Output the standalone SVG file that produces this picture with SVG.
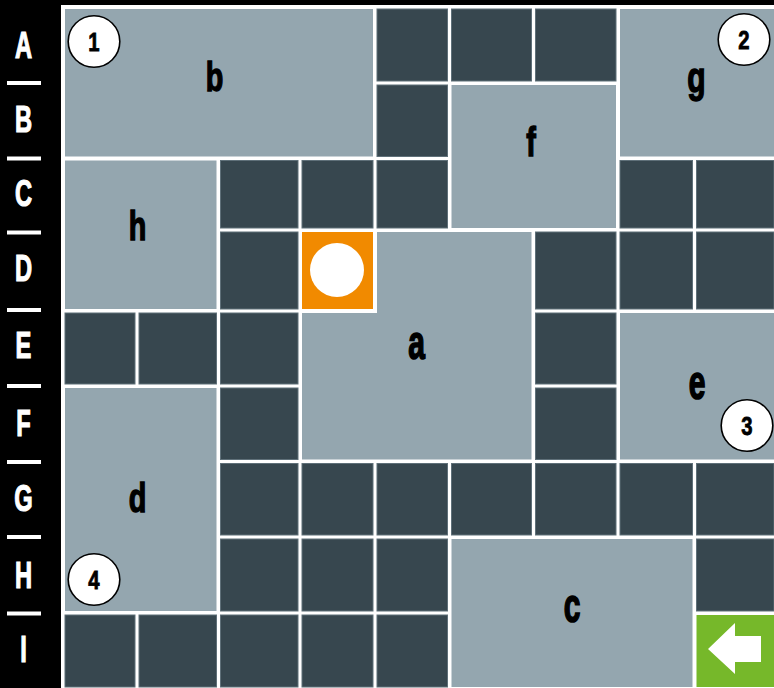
<svg xmlns="http://www.w3.org/2000/svg" width="774" height="688" viewBox="0 0 774 688">
<style>
.dk{fill:#37474F;stroke:#5f7079;stroke-width:1}
.lt{fill:#94A6AF}
.row{font-family:"Liberation Sans",Arial,sans-serif;font-weight:bold;font-size:37px;fill:#fff;stroke:#fff;stroke-width:1.2;text-anchor:middle}
.lbl{font-family:"Liberation Sans",Arial,sans-serif;font-weight:bold;font-size:40px;fill:#000;stroke:#000;stroke-width:1.4;text-anchor:middle}
.num{font-family:"Liberation Sans",Arial,sans-serif;font-weight:bold;font-size:26px;fill:#000;stroke:#000;stroke-width:0.8;text-anchor:middle}
.bub{fill:#fff;stroke:#000;stroke-width:1.6}
.sep{fill:#fff}
</style>
<rect x="0" y="0" width="774" height="688" fill="#000"/>
<rect x="61" y="5" width="713" height="683" fill="#fff"/>

<g id="row-labels">
<rect class="sep" x="7" y="81" width="34" height="4"/>
<rect class="sep" x="7" y="156.5" width="34" height="4"/>
<rect class="sep" x="7" y="230.5" width="34" height="4"/>
<rect class="sep" x="7" y="308" width="34" height="4"/>
<rect class="sep" x="7" y="384" width="34" height="4"/>
<rect class="sep" x="7" y="460" width="34" height="4"/>
<rect class="sep" x="7" y="535" width="34" height="4"/>
<rect class="sep" x="7" y="611.5" width="34" height="4"/>
<text class="row" transform="translate(23.5,58) scale(0.64,1)">A</text>
<text class="row" transform="translate(23.5,132) scale(0.64,1)">B</text>
<text class="row" transform="translate(23.5,206) scale(0.64,1)">C</text>
<text class="row" transform="translate(23.5,281) scale(0.64,1)">D</text>
<text class="row" transform="translate(23.5,358) scale(0.64,1)">E</text>
<text class="row" transform="translate(23.5,436) scale(0.64,1)">F</text>
<text class="row" transform="translate(23.5,511) scale(0.64,1)">G</text>
<text class="row" transform="translate(23.5,588) scale(0.64,1)">H</text>
<text class="row" transform="translate(23.5,662) scale(0.64,1)">I</text>
</g>

<g id="dark-cells">
<rect class="dk" x="377" y="9" width="70.5" height="72"/>
<rect class="dk" x="451.5" y="9" width="80" height="72"/>
<rect class="dk" x="535.5" y="9" width="80.5" height="72"/>
<rect class="dk" x="377" y="85" width="70.5" height="71.5"/>
<rect class="dk" x="220.5" y="160.5" width="77.5" height="67.5"/>
<rect class="dk" x="302" y="160.5" width="71" height="67.5"/>
<rect class="dk" x="377" y="160.5" width="70.5" height="67.5"/>
<rect class="dk" x="620" y="160.5" width="72.5" height="67.5"/>
<rect class="dk" x="696.5" y="160.5" width="77.5" height="67.5"/>
<rect class="dk" x="220.5" y="232" width="77.5" height="77"/>
<rect class="dk" x="535.5" y="232" width="80.5" height="77"/>
<rect class="dk" x="620" y="232" width="72.5" height="77"/>
<rect class="dk" x="696.5" y="232" width="77.5" height="77"/>
<rect class="dk" x="65" y="313" width="70" height="71"/>
<rect class="dk" x="139" y="313" width="77.5" height="71"/>
<rect class="dk" x="220.5" y="313" width="77.5" height="71"/>
<rect class="dk" x="535.5" y="313" width="80.5" height="71"/>
<rect class="dk" x="220.5" y="388" width="77.5" height="71.5"/>
<rect class="dk" x="535.5" y="388" width="80.5" height="71.5"/>
<rect class="dk" x="220.5" y="463.5" width="77.5" height="71.5"/>
<rect class="dk" x="302" y="463.5" width="71" height="71.5"/>
<rect class="dk" x="377" y="463.5" width="70.5" height="71.5"/>
<rect class="dk" x="451.5" y="463.5" width="80" height="71.5"/>
<rect class="dk" x="535.5" y="463.5" width="80.5" height="71.5"/>
<rect class="dk" x="620" y="463.5" width="72.5" height="71.5"/>
<rect class="dk" x="696.5" y="463.5" width="77.5" height="71.5"/>
<rect class="dk" x="220.5" y="539" width="77.5" height="72"/>
<rect class="dk" x="302" y="539" width="71" height="72"/>
<rect class="dk" x="377" y="539" width="70.5" height="72"/>
<rect class="dk" x="696.5" y="539" width="77.5" height="72"/>
<rect class="dk" x="65" y="615" width="70" height="72"/>
<rect class="dk" x="139" y="615" width="77.5" height="72"/>
<rect class="dk" x="220.5" y="615" width="77.5" height="72"/>
<rect class="dk" x="302" y="615" width="71" height="72"/>
<rect class="dk" x="377" y="615" width="70.5" height="72"/>
</g>

<g id="region-b">
<rect class="lt" x="65" y="9" width="308" height="147.5"/>
<text class="lbl" transform="translate(214.5,91) scale(0.72,1.02)">b</text>
</g>
<g id="region-g">
<rect class="lt" x="620" y="9" width="154" height="147.5"/>
<text class="lbl" transform="translate(696.5,92) scale(0.75,1.05)">g</text>
</g>
<g id="region-f">
<rect class="lt" x="451.5" y="85" width="164.5" height="143"/>
<text class="lbl" transform="translate(531,156) scale(0.72,1)">f</text>
</g>
<g id="region-h">
<rect class="lt" x="65" y="160.5" width="151.5" height="148.5"/>
<text class="lbl" transform="translate(137.5,240) scale(0.72,1.02)">h</text>
</g>
<g id="region-a">
<polygon class="lt" points="377,232 531.5,232 531.5,459.5 302,459.5 302,313 377,313"/>
<text class="lbl" transform="translate(416.7,359) scale(0.75,1.2)">a</text>
</g>
<g id="region-e">
<rect class="lt" x="620" y="313" width="154" height="146.5"/>
<text class="lbl" transform="translate(697,399) scale(0.75,1.2)">e</text>
</g>
<g id="region-d">
<rect class="lt" x="65" y="388" width="151.5" height="223"/>
<text class="lbl" transform="translate(137.5,511.5) scale(0.72,1.02)">d</text>
</g>
<g id="region-c">
<rect class="lt" x="451.5" y="539" width="241" height="148"/>
<text class="lbl" transform="translate(572,622) scale(0.75,1.2)">c</text>
</g>

<g id="start">
<rect x="302" y="232" width="71" height="77" fill="#F18A00"/>
<circle cx="337" cy="270" r="27" fill="#fff"/>
</g>
<g id="exit">
<rect x="696.5" y="615" width="77.5" height="72" fill="#76B82A"/>
<polygon points="708,649 735,623 735,636 761,636 761,662 735,662 735,674" fill="#fff"/>
</g>

<g id="marker-1">
<circle class="bub" cx="94" cy="41.5" r="25.8"/>
<text class="num" transform="translate(94,50.7) scale(0.78,1)">1</text>
</g>
<g id="marker-2">
<circle class="bub" cx="744" cy="39.5" r="25.8"/>
<text class="num" transform="translate(744,48.7) scale(0.78,1)">2</text>
</g>
<g id="marker-3">
<circle class="bub" cx="747" cy="425.5" r="25.8"/>
<text class="num" transform="translate(747,434.7) scale(0.78,1)">3</text>
</g>
<g id="marker-4">
<circle class="bub" cx="94" cy="579.5" r="25.8"/>
<text class="num" transform="translate(94,588.7) scale(0.78,1)">4</text>
</g>
<g id="connectors"/>
</svg>
